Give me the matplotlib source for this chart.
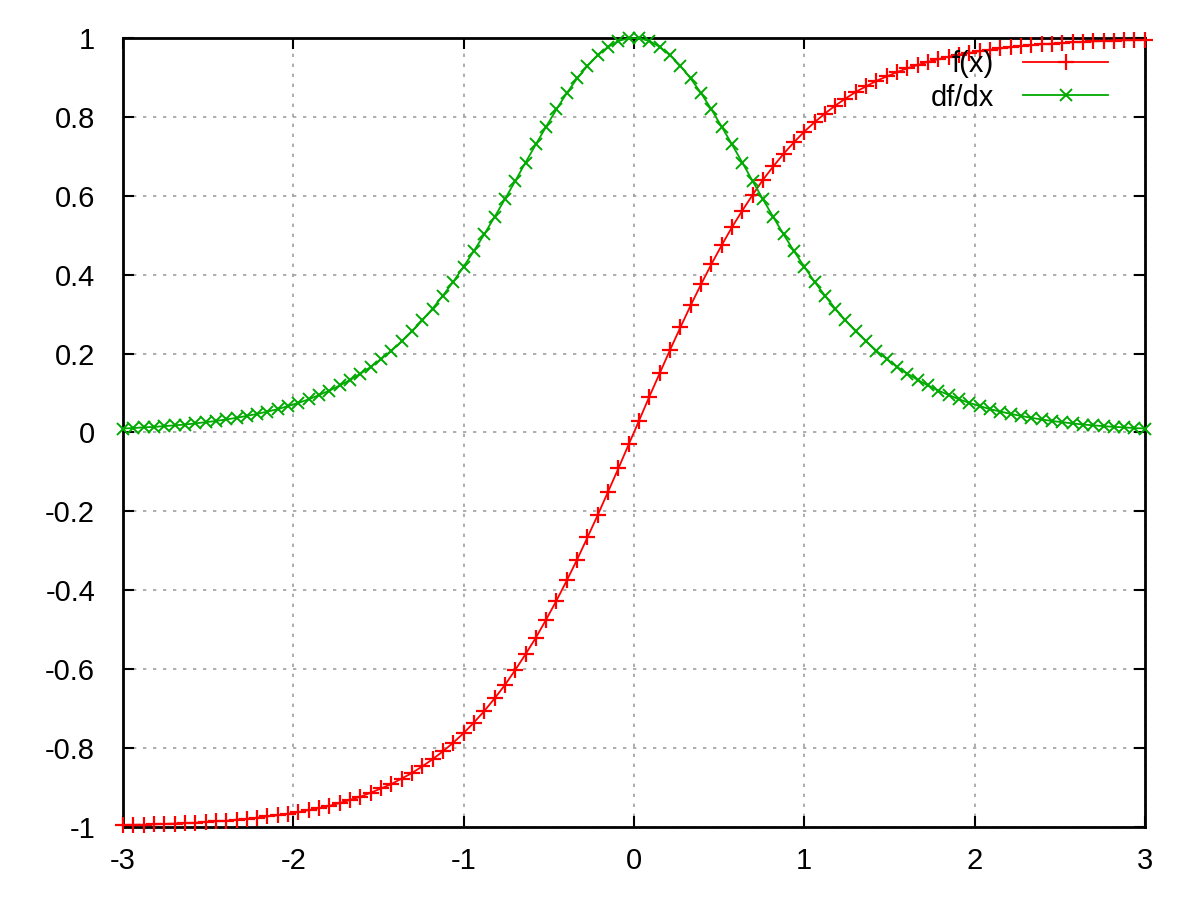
import numpy as np
import matplotlib
matplotlib.use("Agg")
import matplotlib.pyplot as plt
from matplotlib.ticker import FuncFormatter

plt.rcParams['font.family'] = ['Liberation Sans', 'DejaVu Sans']
plt.rcParams['axes.unicode_minus'] = False

# sample grid of the plot (100 samples, -3 .. 3)
x = np.linspace(-3, 3, 100)

# values for x >= 0 (the curves are odd / even about 0)
f_right = [0.030, 0.091, 0.150, 0.209, 0.266, 0.322, 0.375, 0.426, 0.474, 0.520,
           0.562, 0.602, 0.640, 0.674, 0.706, 0.735, 0.762, 0.786, 0.808, 0.828,
           0.846, 0.863, 0.877, 0.891, 0.902, 0.913, 0.923, 0.931, 0.939, 0.946,
           0.952, 0.957, 0.962, 0.966, 0.970, 0.973, 0.976, 0.979, 0.981, 0.984,
           0.985, 0.987, 0.989, 0.990, 0.991, 0.992, 0.993, 0.994, 0.994, 0.995]
df_right = [0.999, 0.992, 0.977, 0.956, 0.929, 0.897, 0.860, 0.819, 0.775, 0.730,
            0.684, 0.637, 0.591, 0.546, 0.502, 0.460, 0.420, 0.382, 0.347, 0.314,
            0.284, 0.256, 0.231, 0.207, 0.186, 0.166, 0.149, 0.133, 0.119, 0.106,
            0.095, 0.084, 0.075, 0.067, 0.059, 0.053, 0.047, 0.042, 0.037, 0.033,
            0.029, 0.026, 0.023, 0.020, 0.018, 0.016, 0.014, 0.013, 0.011, 0.010]

f_vals = [-v for v in f_right[::-1]] + f_right
df_vals = df_right[::-1] + df_right

series_labels = ["f(x)", "df/dx"]
x_ticks = [-3, -2, -1, 0, 1, 2, 3]
y_ticks = [-1, -0.8, -0.6, -0.4, -0.2, 0, 0.2, 0.4, 0.6, 0.8, 1]

fig = plt.figure(figsize=(12, 9), dpi=100)
ax = fig.add_axes([0.1025, 0.081, 0.8515, 0.877])

ax.plot(x, f_vals, color="#ff0000", lw=1.3, marker="+", ms=11, mew=1.6,
        label=series_labels[0], clip_on=False, zorder=3)
ax.plot(x, df_vals, color="#00aa00", lw=1.3, marker="x", ms=8, mew=1.4,
        label=series_labels[1], clip_on=False, zorder=3)

ax.set_xlim(-3, 3)
ax.set_ylim(-1, 1)
ax.set_xticks(x_ticks)
ax.set_yticks(y_ticks)
fmt = FuncFormatter(lambda v, p: "%g" % round(v, 2))
ax.xaxis.set_major_formatter(fmt)
ax.yaxis.set_major_formatter(fmt)

ax.grid(True, color="#a0a0a0", linestyle=(0, (2, 4)), linewidth=1.2)
ax.tick_params(direction="in", length=8, width=1.5, top=True, right=True,
               labelsize=21, colors="black")
ax.tick_params(axis="y", pad=20)
ax.tick_params(axis="x", pad=14)
for s in ax.spines.values():
    s.set_linewidth(2)

leg = ax.legend(loc="upper right", frameon=False, markerfirst=False, fontsize=21,
                handlelength=2.9, borderaxespad=0.2, labelspacing=0.2,
                handletextpad=1.0, bbox_to_anchor=(0.981, 1.007))

fig.savefig("out.png", dpi=100)
